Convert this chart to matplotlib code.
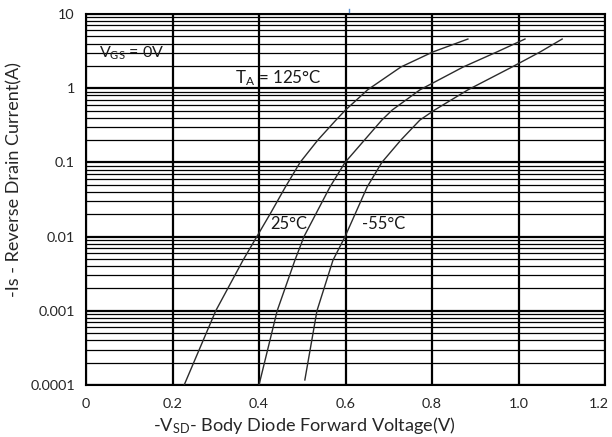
import matplotlib
matplotlib.use("Agg")
import matplotlib.pyplot as plt
from matplotlib.ticker import FixedLocator, LogLocator, NullFormatter
from matplotlib.lines import Line2D
import matplotlib.transforms as mtransforms

plt.rcParams['font.family'] = ['Lato', 'DejaVu Sans']
plt.rcParams['mathtext.fontset'] = 'custom'
plt.rcParams['mathtext.rm'] = 'Lato'

# ---- Data ----
v_125 = [0.227, 0.300, 0.363, 0.395, 0.427, 0.461, 0.495, 0.536, 0.578, 0.600, 0.651, 0.728, 0.802, 0.883]
i_125 = [1e-4, 1e-3, 0.0048, 0.01, 0.0208, 0.0466, 0.1, 0.2, 0.372, 0.508, 0.95, 1.93, 3.08, 4.6]

v_25 = [0.400, 0.442, 0.483, 0.504, 0.564, 0.599, 0.684, 0.708, 0.772, 0.872, 0.950, 1.015]
i_25 = [1e-4, 1e-3, 0.0048, 0.01, 0.0466, 0.1, 0.372, 0.508, 0.95, 1.93, 3.08, 4.6]

v_m55 = [0.506, 0.534, 0.571, 0.599, 0.650, 0.684, 0.728, 0.772, 0.806, 0.883, 0.985, 1.050, 1.101]
i_m55 = [1.17e-4, 1e-3, 0.0048, 0.01, 0.0466, 0.1, 0.2, 0.372, 0.508, 0.95, 1.93, 3.08, 4.6]

x_ticks = [0, 0.2, 0.4, 0.6, 0.8, 1.0, 1.2]
x_ticklabels = ['0', '0.2', '0.4', '0.6', '0.8', '1.0', '1.2']
y_ticks = [1e-4, 1e-3, 1e-2, 1e-1, 1, 10]
y_ticklabels = ['0.0001', '0.001', '0.01', '0.1', '1', '10']

W, H = 612, 437
fig = plt.figure(figsize=(W / 100, H / 100), dpi=100)
ax = fig.add_axes([86 / W, (H - 385) / H, (605 - 86) / W, (385 - 14) / H])

ax.set_yscale('log')
ax.set_xlim(0, 1.2)
ax.set_ylim(1e-4, 10)

curve_color = '#2b2b2b'
for v, i in [(v_125, i_125), (v_25, i_25), (v_m55, i_m55)]:
    ax.plot(v, i, color=curve_color, lw=1.0, zorder=3, solid_joinstyle='round')

ax.xaxis.set_major_locator(FixedLocator(x_ticks))
ax.set_xticklabels(x_ticklabels)
ax.yaxis.set_major_locator(FixedLocator(y_ticks))
ax.set_yticklabels(y_ticklabels)
ax.yaxis.set_minor_locator(LogLocator(base=10, subs=[2, 3, 4, 5, 6, 7, 8, 9], numticks=20))
ax.yaxis.set_minor_formatter(NullFormatter())

ax.grid(True, which='major', axis='both', color='black', lw=1.6)
ax.grid(True, which='minor', axis='y', color='black', lw=0.9)
ax.tick_params(axis='both', which='both', length=0, labelsize=10, colors='#262626')
ax.tick_params(axis='x', pad=9)
ax.tick_params(axis='y', pad=8)
for s in ax.spines.values():
    s.set_color('black')
    s.set_linewidth(1.5)

txt_color = '#1a1a1a'
t_vgs = ax.text(0.030, 2.98, r'$\mathregular{V_{GS}}$ = 0V', fontsize=12, color=txt_color, va='center', ha='left')
t_ta = ax.text(0.3445, 1.37, r'$\mathregular{T_A}$ = 125°C', fontsize=12, color=txt_color, va='center', ha='left')
t_25 = ax.text(0.4254, 0.0148, '25°C', fontsize=12, color=txt_color, va='center', ha='left')
t_55 = ax.text(0.638, 0.0148, '-55°C', fontsize=12, color=txt_color, va='center', ha='left')

xl = fig.text(304 / W, (H - 425) / H, r'-$\mathregular{V_{SD}}$- Body Diode Forward Voltage(V)',
              fontsize=12, color='#262626', ha='center', va='center')
yl = fig.text(14 / W, (H - 180) / H, '-Is - Reverse Drain Current(A)', rotation=90,
              fontsize=12, color='#262626', ha='center', va='center')

# tiny mark at the top of the reference
fig.add_artist(Line2D([349 / W, 349 / W], [(H - 9) / H, (H - 11.5) / H], color='#5b8fd0', lw=1.0))

# fit text sizes to the widths measured on the reference
fig.canvas.draw()
r = fig.canvas.get_renderer()

def fit(t, target, vertical=False):
    bb = t.get_window_extent(r)
    size = bb.height if vertical else bb.width
    if size > 0:
        t.set_fontsize(t.get_fontsize() * target / size)

fit(t_vgs, 65)
fit(t_ta, 87)
fit(t_25, 37)
fit(t_55, 43)
fit(xl, 302)
fit(yl, 234, vertical=True)

lab = [t for t in ax.get_yticklabels() if t.get_text() == '0.0001']
if lab:
    bb = lab[0].get_window_extent(r)
    if bb.width > 0:
        ax.tick_params(axis='both', labelsize=10 * 45 / bb.width)

# keep the last x tick label inside the figure (as in the reference)
last = ax.get_xticklabels()[-1]
last.set_transform(last.get_transform() + mtransforms.ScaledTranslation(-6 / 100, 0, fig.dpi_scale_trans))

fig.savefig('out.png', dpi=100)
